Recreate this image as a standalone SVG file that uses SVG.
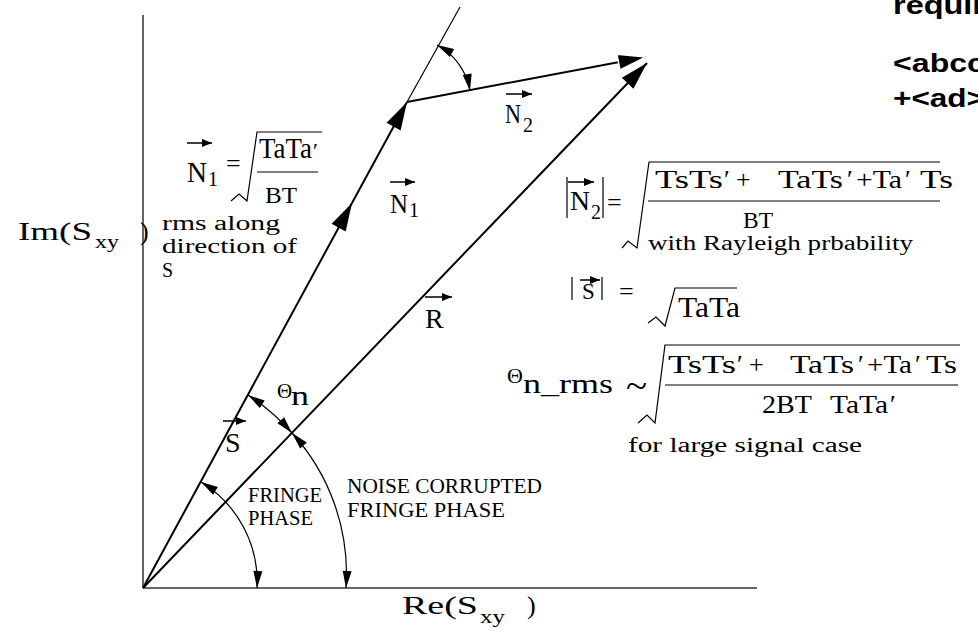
<svg xmlns="http://www.w3.org/2000/svg" width="978" height="632" viewBox="0 0 978 632">
<style>
.ax{stroke:#666;stroke-width:2;fill:none}
.vec{stroke:#000;stroke-width:2;fill:none}
.thin{stroke:#000;stroke-width:1.2;fill:none}
.arc{stroke:#000;stroke-width:1.2;fill:none;marker-start:url(#sm);marker-end:url(#sm)}
.lab{stroke:#000;stroke-width:1.5;fill:none;marker-end:url(#tiny)}
.m{font-family:"Liberation Serif","Times New Roman",serif;fill:#000}
.s{font-family:"Liberation Serif","Times New Roman",serif;font-size:20px;fill:#000}
.b{font-family:"Liberation Sans",Arial,sans-serif;font-weight:bold;font-size:26px;fill:#000}
</style>
<defs>
<marker id="big" markerUnits="userSpaceOnUse" markerWidth="40" markerHeight="40" refX="0" refY="0" orient="auto" overflow="visible"><path d="M0,0 L-28,-8 L-28,8 Z" fill="#000"/></marker>
<marker id="bigw" markerUnits="userSpaceOnUse" markerWidth="40" markerHeight="40" refX="0" refY="0" orient="auto" overflow="visible"><path d="M0,0 L-28,-8 L-28,8 Z" fill="#000" stroke="#fff" stroke-width="1.5"/></marker>
<marker id="sm" markerUnits="userSpaceOnUse" markerWidth="30" markerHeight="30" refX="0" refY="0" orient="auto-start-reverse" overflow="visible"><path d="M0,0 L-17,-4.5 L-17,4.5 Z" fill="#000"/></marker>
<marker id="tiny" markerUnits="userSpaceOnUse" markerWidth="20" markerHeight="20" refX="0" refY="0" orient="auto" overflow="visible"><path d="M0,0 L-10,-4 L-10,4 Z" fill="#000"/></marker>
</defs>

<g id="axes">
<line class="ax" x1="143" y1="15" x2="143" y2="588"/>
<line class="ax" x1="143" y1="588" x2="757" y2="588"/>
<text class="m" font-size="26"><tspan x="18" y="240" textLength="74" lengthAdjust="spacingAndGlyphs">Im(S</tspan><tspan x="95" y="248" font-size="19" textLength="24" lengthAdjust="spacingAndGlyphs">xy</tspan><tspan x="140" y="240">)</tspan></text>
<text class="m" font-size="26"><tspan x="402" y="614" textLength="76" lengthAdjust="spacingAndGlyphs">Re(S</tspan><tspan x="480" y="623" font-size="19" textLength="25" lengthAdjust="spacingAndGlyphs">xy</tspan><tspan x="527" y="614">)</tspan></text>
</g>

<g id="connectors">
<line class="vec" x1="143" y1="588" x2="352" y2="203" marker-end="url(#big)"/>
<line class="vec" x1="352" y1="203" x2="407" y2="102" marker-end="url(#big)"/>
<line class="thin" x1="407" y1="102" x2="460" y2="7"/>
<line class="vec" x1="143" y1="588" x2="647" y2="63" marker-end="url(#big)"/>
<line class="vec" x1="407" y1="102" x2="646" y2="57" marker-end="url(#bigw)"/>
<path class="arc" d="M437,45 A64,64 0 0 1 470,91"/>
<path class="arc" d="M248,395 A217,217 0 0 1 292,433"/>
<path class="arc" d="M201,482 A117,117 0 0 1 257,588"/>
<path class="arc" d="M292,433 A209,209 0 0 1 346,588"/>
</g>

<g id="label-S">
<line class="lab" x1="223" y1="421" x2="246" y2="421"/>
<text class="m" x="225" y="452" font-size="28">S</text>
</g>
<g id="label-R">
<line class="lab" x1="425" y1="297" x2="452" y2="297"/>
<text class="m" x="425" y="328" font-size="28">R</text>
</g>
<g id="label-N1">
<line class="lab" x1="390" y1="182" x2="415" y2="182"/>
<text class="m" font-size="28"><tspan x="390" y="213" textLength="18" lengthAdjust="spacingAndGlyphs">N</tspan><tspan x="409" y="217" font-size="20">1</tspan></text>
</g>
<g id="label-N2">
<line class="lab" x1="506" y1="94" x2="532" y2="94"/>
<text class="m" font-size="28"><tspan x="505" y="123" textLength="16" lengthAdjust="spacingAndGlyphs">N</tspan><tspan x="523" y="132" font-size="20">2</tspan></text>
</g>
<g id="label-theta">
<text class="m"><tspan x="277" y="398" font-size="21">Θ</tspan><tspan x="291" y="405" font-size="28" textLength="18" lengthAdjust="spacingAndGlyphs">n</tspan></text>
</g>
<g id="label-fringe">
<text class="s" x="248" y="502" textLength="74" lengthAdjust="spacingAndGlyphs">FRINGE</text>
<text class="s" x="248" y="525" textLength="65" lengthAdjust="spacingAndGlyphs">PHASE</text>
</g>
<g id="label-noise">
<text class="s" x="347" y="493" textLength="195" lengthAdjust="spacingAndGlyphs">NOISE CORRUPTED</text>
<text class="s" x="347" y="517" textLength="158" lengthAdjust="spacingAndGlyphs">FRINGE PHASE</text>
</g>

<g id="formula-N1">
<line class="lab" x1="187" y1="143" x2="212" y2="143"/>
<text class="m" font-size="29"><tspan x="187" y="182" textLength="20" lengthAdjust="spacingAndGlyphs">N</tspan><tspan x="208" y="186" font-size="20">1</tspan></text>
<text class="m" x="226" y="172" font-size="26">=</text>
<polyline class="thin" points="231,201 239,194 247,201 257,132 322,132"/>
<text class="m" font-size="29"><tspan x="259" y="158" textLength="53" lengthAdjust="spacingAndGlyphs">TaTa</tspan><tspan x="313" y="158" font-size="22">′</tspan></text>
<line class="thin" x1="257" y1="172" x2="318" y2="172"/>
<text class="m" x="265" y="203" font-size="24" textLength="32" lengthAdjust="spacingAndGlyphs">BT</text>
<text class="s" x="162" y="230" textLength="118" lengthAdjust="spacingAndGlyphs">rms along</text>
<text class="s" x="162" y="253" textLength="135" lengthAdjust="spacingAndGlyphs">direction of</text>
<text class="s" x="162" y="277">S</text>
</g>

<g id="formula-N2">
<line class="thin" x1="567" y1="177" x2="567" y2="218"/>
<line class="thin" x1="603" y1="177" x2="603" y2="218"/>
<line class="lab" x1="568" y1="182" x2="594" y2="182"/>
<text class="m" font-size="28"><tspan x="570" y="210" textLength="20" lengthAdjust="spacingAndGlyphs">N</tspan><tspan x="591" y="219" font-size="20">2</tspan></text>
<text class="m" x="607" y="211" font-size="26">=</text>
<polyline class="thin" points="622,248 628,241 637,248 649,162 940,162"/>
<text class="m" font-size="26" y="188"><tspan x="655" textLength="68" lengthAdjust="spacingAndGlyphs">TsTs</tspan><tspan x="724">′</tspan><tspan x="736">+</tspan><tspan x="778" textLength="65" lengthAdjust="spacingAndGlyphs">TaTs</tspan><tspan x="847">′</tspan><tspan x="856" textLength="46" lengthAdjust="spacingAndGlyphs">+Ta</tspan><tspan x="905">′</tspan><tspan x="920" textLength="33" lengthAdjust="spacingAndGlyphs">Ts</tspan></text>
<line class="thin" x1="648" y1="201" x2="940" y2="201"/>
<text class="m" x="743" y="228" font-size="24" textLength="30" lengthAdjust="spacingAndGlyphs">BT</text>
<text class="s" x="648" y="250" textLength="265" lengthAdjust="spacingAndGlyphs">with Rayleigh prbability</text>
</g>

<g id="formula-S">
<line class="thin" x1="572" y1="277" x2="572" y2="300"/>
<line class="thin" x1="602" y1="277" x2="602" y2="300"/>
<line class="lab" x1="580" y1="280" x2="600" y2="280"/>
<text class="m" x="582" y="299" font-size="23">S</text>
<text class="m" x="619" y="300" font-size="26">=</text>
<polyline class="thin" points="648,323 656,317 665,326 675,288 737,288"/>
<text class="m" x="678" y="317" font-size="29" textLength="62" lengthAdjust="spacingAndGlyphs">TaTa</text>
</g>

<g id="formula-theta">
<text class="m"><tspan x="507" y="383" font-size="22">Θ</tspan><tspan x="523" y="393" font-size="27" textLength="90" lengthAdjust="spacingAndGlyphs">n_rms</tspan></text>
<text class="m" x="626" y="398" font-size="36" textLength="21" lengthAdjust="spacingAndGlyphs">~</text>
<polyline class="thin" points="638,423 647,415 655,423 665,345 960,345"/>
<text class="m" font-size="26" y="373"><tspan x="668" textLength="68" lengthAdjust="spacingAndGlyphs">TsTs</tspan><tspan x="737">′</tspan><tspan x="749">+</tspan><tspan x="790" textLength="64" lengthAdjust="spacingAndGlyphs">TaTs</tspan><tspan x="858">′</tspan><tspan x="867" textLength="45" lengthAdjust="spacingAndGlyphs">+Ta</tspan><tspan x="915">′</tspan><tspan x="926" textLength="31" lengthAdjust="spacingAndGlyphs">Ts</tspan></text>
<line class="thin" x1="665" y1="385" x2="958" y2="385"/>
<text class="m" font-size="26" y="413"><tspan x="762" textLength="50" lengthAdjust="spacingAndGlyphs">2BT</tspan><tspan x="830" textLength="58" lengthAdjust="spacingAndGlyphs">TaTa</tspan><tspan x="890">′</tspan></text>
<text class="s" x="628" y="452" textLength="234" lengthAdjust="spacingAndGlyphs">for large signal case</text>
</g>

<g id="note">
<text class="b" x="893" y="14" textLength="92" lengthAdjust="spacingAndGlyphs">requir</text>
<text class="b" x="893" y="72" textLength="92" lengthAdjust="spacingAndGlyphs">&lt;abcc</text>
<text class="b" x="893" y="107" textLength="92" lengthAdjust="spacingAndGlyphs">+&lt;ad&gt;</text>
</g>
</svg>
